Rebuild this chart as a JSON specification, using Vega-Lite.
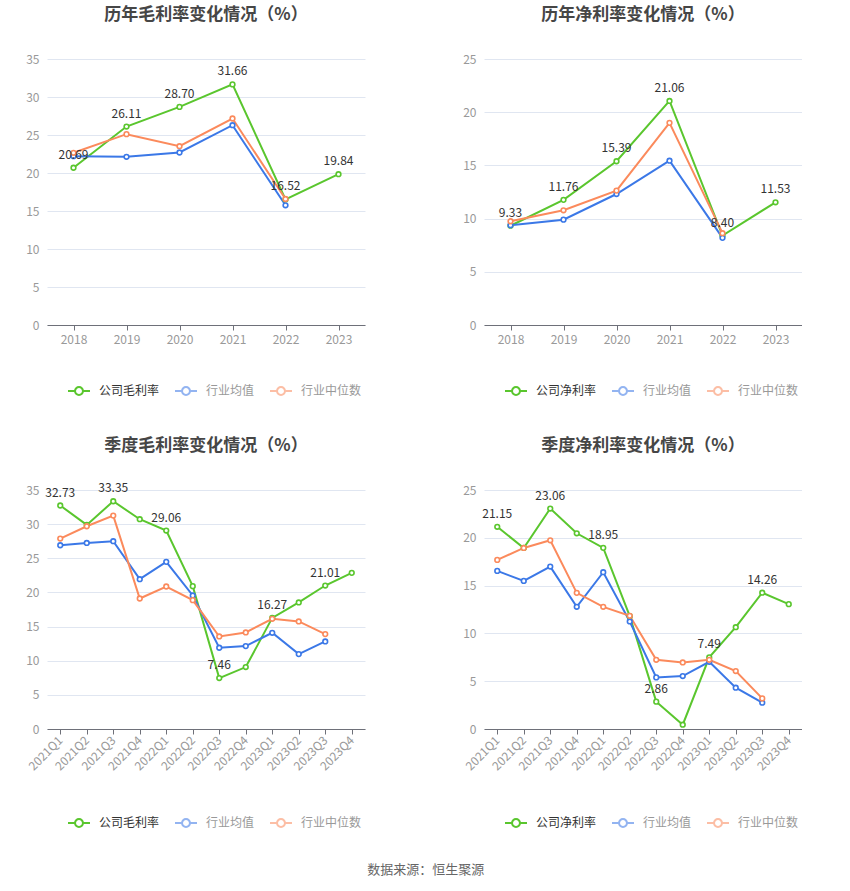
{
  "$schema": "https://vega.github.io/schema/vega-lite/v6.json",
  "background": "white",
  "padding": {"left": 25, "top": 6, "right": 0, "bottom": 5},
  "datasets": {
    "ag": [
      {"x": "2018", "s": "公司毛利率", "v": 20.69}, {"x": "2019", "s": "公司毛利率", "v": 26.11}, {"x": "2020", "s": "公司毛利率", "v": 28.70}, {"x": "2021", "s": "公司毛利率", "v": 31.66}, {"x": "2022", "s": "公司毛利率", "v": 16.52}, {"x": "2023", "s": "公司毛利率", "v": 19.84},
      {"x": "2018", "s": "行业均值", "v": 22.22}, {"x": "2019", "s": "行业均值", "v": 22.13}, {"x": "2020", "s": "行业均值", "v": 22.70}, {"x": "2021", "s": "行业均值", "v": 26.29}, {"x": "2022", "s": "行业均值", "v": 15.75},
      {"x": "2018", "s": "行业中位数", "v": 22.66}, {"x": "2019", "s": "行业中位数", "v": 25.11}, {"x": "2020", "s": "行业中位数", "v": 23.53}, {"x": "2021", "s": "行业中位数", "v": 27.17}, {"x": "2022", "s": "行业中位数", "v": 16.58}
    ],
    "an": [
      {"x": "2018", "s": "公司净利率", "v": 9.33}, {"x": "2019", "s": "公司净利率", "v": 11.76}, {"x": "2020", "s": "公司净利率", "v": 15.39}, {"x": "2021", "s": "公司净利率", "v": 21.06}, {"x": "2022", "s": "公司净利率", "v": 8.40}, {"x": "2023", "s": "公司净利率", "v": 11.53},
      {"x": "2018", "s": "行业均值", "v": 9.38}, {"x": "2019", "s": "行业均值", "v": 9.90}, {"x": "2020", "s": "行业均值", "v": 12.31}, {"x": "2021", "s": "行业均值", "v": 15.44}, {"x": "2022", "s": "行业均值", "v": 8.19},
      {"x": "2018", "s": "行业中位数", "v": 9.75}, {"x": "2019", "s": "行业中位数", "v": 10.78}, {"x": "2020", "s": "行业中位数", "v": 12.63}, {"x": "2021", "s": "行业中位数", "v": 19.00}, {"x": "2022", "s": "行业中位数", "v": 8.63}
    ],
    "qg": [
      {"x": "2021Q1", "s": "公司毛利率", "v": 32.73}, {"x": "2021Q2", "s": "公司毛利率", "v": 29.89}, {"x": "2021Q3", "s": "公司毛利率", "v": 33.35}, {"x": "2021Q4", "s": "公司毛利率", "v": 30.72}, {"x": "2022Q1", "s": "公司毛利率", "v": 29.06}, {"x": "2022Q2", "s": "公司毛利率", "v": 20.92}, {"x": "2022Q3", "s": "公司毛利率", "v": 7.46}, {"x": "2022Q4", "s": "公司毛利率", "v": 9.07}, {"x": "2023Q1", "s": "公司毛利率", "v": 16.27}, {"x": "2023Q2", "s": "公司毛利率", "v": 18.53}, {"x": "2023Q3", "s": "公司毛利率", "v": 21.01}, {"x": "2023Q4", "s": "公司毛利率", "v": 22.87},
      {"x": "2021Q1", "s": "行业均值", "v": 26.91}, {"x": "2021Q2", "s": "行业均值", "v": 27.25}, {"x": "2021Q3", "s": "行业均值", "v": 27.50}, {"x": "2021Q4", "s": "行业均值", "v": 21.94}, {"x": "2022Q1", "s": "行业均值", "v": 24.48}, {"x": "2022Q2", "s": "行业均值", "v": 19.55}, {"x": "2022Q3", "s": "行业均值", "v": 11.90}, {"x": "2022Q4", "s": "行业均值", "v": 12.14}, {"x": "2023Q1", "s": "行业均值", "v": 14.09}, {"x": "2023Q2", "s": "行业均值", "v": 10.97}, {"x": "2023Q3", "s": "行业均值", "v": 12.82},
      {"x": "2021Q1", "s": "行业中位数", "v": 27.89}, {"x": "2021Q2", "s": "行业中位数", "v": 29.69}, {"x": "2021Q3", "s": "行业中位数", "v": 31.25}, {"x": "2021Q4", "s": "行业中位数", "v": 19.11}, {"x": "2022Q1", "s": "行业中位数", "v": 20.87}, {"x": "2022Q2", "s": "行业中位数", "v": 18.87}, {"x": "2022Q3", "s": "行业中位数", "v": 13.55}, {"x": "2022Q4", "s": "行业中位数", "v": 14.14}, {"x": "2023Q1", "s": "行业中位数", "v": 16.14}, {"x": "2023Q2", "s": "行业中位数", "v": 15.75}, {"x": "2023Q3", "s": "行业中位数", "v": 13.90}
    ],
    "qn": [
      {"x": "2021Q1", "s": "公司净利率", "v": 21.15}, {"x": "2021Q2", "s": "公司净利率", "v": 18.94}, {"x": "2021Q3", "s": "公司净利率", "v": 23.06}, {"x": "2021Q4", "s": "公司净利率", "v": 20.47}, {"x": "2022Q1", "s": "公司净利率", "v": 18.95}, {"x": "2022Q2", "s": "公司净利率", "v": 11.80}, {"x": "2022Q3", "s": "公司净利率", "v": 2.86}, {"x": "2022Q4", "s": "公司净利率", "v": 0.45}, {"x": "2023Q1", "s": "公司净利率", "v": 7.49}, {"x": "2023Q2", "s": "公司净利率", "v": 10.65}, {"x": "2023Q3", "s": "公司净利率", "v": 14.26}, {"x": "2023Q4", "s": "公司净利率", "v": 13.06},
      {"x": "2021Q1", "s": "行业均值", "v": 16.54}, {"x": "2021Q2", "s": "行业均值", "v": 15.49}, {"x": "2021Q3", "s": "行业均值", "v": 16.99}, {"x": "2021Q4", "s": "行业均值", "v": 12.78}, {"x": "2022Q1", "s": "行业均值", "v": 16.40}, {"x": "2022Q2", "s": "行业均值", "v": 11.25}, {"x": "2022Q3", "s": "行业均值", "v": 5.40}, {"x": "2022Q4", "s": "行业均值", "v": 5.54}, {"x": "2023Q1", "s": "行业均值", "v": 7.03}, {"x": "2023Q2", "s": "行业均值", "v": 4.32}, {"x": "2023Q3", "s": "行业均值", "v": 2.75},
      {"x": "2021Q1", "s": "行业中位数", "v": 17.69}, {"x": "2021Q2", "s": "行业中位数", "v": 18.94}, {"x": "2021Q3", "s": "行业中位数", "v": 19.74}, {"x": "2021Q4", "s": "行业中位数", "v": 14.24}, {"x": "2022Q1", "s": "行业中位数", "v": 12.78}, {"x": "2022Q2", "s": "行业中位数", "v": 11.84}, {"x": "2022Q3", "s": "行业中位数", "v": 7.24}, {"x": "2022Q4", "s": "行业中位数", "v": 6.96}, {"x": "2023Q1", "s": "行业中位数", "v": 7.24}, {"x": "2023Q2", "s": "行业中位数", "v": 6.06}, {"x": "2023Q3", "s": "行业中位数", "v": 3.20}
    ]
  },
  "title": {"text": "数据来源：恒生聚源", "orient": "bottom", "anchor": "middle", "fontSize": 13, "fontWeight": "normal", "color": "#666666", "offset": 33, "dx": 12},
  "resolve": {"scale": {"color": "independent", "x": "independent", "y": "independent"}, "legend": {"color": "independent"}},
  "spacing": 38,
  "vconcat": [
    {
      "resolve": {"scale": {"color": "independent", "x": "independent", "y": "independent"}, "legend": {"color": "independent"}},
      "spacing": 97,
      "hconcat": [
        {
          "width": 318, "height": 266,
          "title": {"text": "历年毛利率变化情况（%）"},
          "data": {"name": "ag"},
          "layer": [
            {
              "mark": {"type": "line", "strokeWidth": 2, "point": {"filled": false, "fill": "white", "size": 22, "strokeWidth": 1.6}},
              "encoding": {
                "x": {"field": "x", "type": "ordinal", "scale": {"type": "point", "padding": 0.5}, "axis": {"labelAngle": 0}},
                "y": {"field": "v", "type": "quantitative", "scale": {"domain": [0, 35], "nice": false}, "axis": {"tickCount": 7, "labelOverlap": false}},
                "color": {"field": "s", "type": "nominal", "sort": ["公司毛利率", "行业均值", "行业中位数"], "scale": {"domain": ["公司毛利率", "行业均值", "行业中位数"], "range": ["#5ac62e", "#3b78e7", "#fb8a5c"]},
                  "legend": {"orient": "none", "legendX": 20, "legendY": 320,
                    "encode": {"labels": {"update": {"fill": {"signal": "datum.index === 0 ? '#333333' : '#999999'"}}}, "symbols": {"update": {"opacity": {"signal": "datum.index === 0 ? 1 : 0.55"}}}}}}
              }
            },
            {
              "transform": [{"filter": {"field": "s", "equal": "公司毛利率"}}],
              "mark": {"type": "text", "dy": -13, "fontSize": 12, "color": "#333333"},
              "encoding": {
                "x": {"field": "x", "type": "ordinal"},
                "y": {"field": "v", "type": "quantitative"},
                "text": {"field": "v", "type": "quantitative", "format": ".2f"}
              }
            }
          ]
        },
        {
          "width": 318, "height": 266,
          "title": {"text": "历年净利率变化情况（%）"},
          "data": {"name": "an"},
          "layer": [
            {
              "mark": {"type": "line", "strokeWidth": 2, "point": {"filled": false, "fill": "white", "size": 22, "strokeWidth": 1.6}},
              "encoding": {
                "x": {"field": "x", "type": "ordinal", "scale": {"type": "point", "padding": 0.5}, "axis": {"labelAngle": 0}},
                "y": {"field": "v", "type": "quantitative", "scale": {"domain": [0, 25], "nice": false}, "axis": {"tickCount": 6, "labelOverlap": false}},
                "color": {"field": "s", "type": "nominal", "sort": ["公司净利率", "行业均值", "行业中位数"], "scale": {"domain": ["公司净利率", "行业均值", "行业中位数"], "range": ["#5ac62e", "#3b78e7", "#fb8a5c"]},
                  "legend": {"orient": "none", "legendX": 20, "legendY": 320,
                    "encode": {"labels": {"update": {"fill": {"signal": "datum.index === 0 ? '#333333' : '#999999'"}}}, "symbols": {"update": {"opacity": {"signal": "datum.index === 0 ? 1 : 0.55"}}}}}}
              }
            },
            {
              "transform": [{"filter": {"field": "s", "equal": "公司净利率"}}],
              "mark": {"type": "text", "dy": -13, "fontSize": 12, "color": "#333333"},
              "encoding": {
                "x": {"field": "x", "type": "ordinal"},
                "y": {"field": "v", "type": "quantitative"},
                "text": {"field": "v", "type": "quantitative", "format": ".2f"}
              }
            }
          ]
        }
      ]
    },
    {
      "resolve": {"scale": {"color": "independent", "x": "independent", "y": "independent"}, "legend": {"color": "independent"}},
      "spacing": 97,
      "hconcat": [
        {
          "width": 318, "height": 239,
          "title": {"text": "季度毛利率变化情况（%）", "offset": 27},
          "data": {"name": "qg"},
          "layer": [
            {
              "mark": {"type": "line", "strokeWidth": 2, "point": {"filled": false, "fill": "white", "size": 22, "strokeWidth": 1.6}},
              "encoding": {
                "x": {"field": "x", "type": "ordinal", "scale": {"type": "point", "padding": 0.5}, "axis": {"labelAngle": -45, "labelAlign": "right", "labelBaseline": "middle"}},
                "y": {"field": "v", "type": "quantitative", "scale": {"domain": [0, 35], "nice": false}, "axis": {"tickCount": 7, "labelOverlap": false}},
                "color": {"field": "s", "type": "nominal", "sort": ["公司毛利率", "行业均值", "行业中位数"], "scale": {"domain": ["公司毛利率", "行业均值", "行业中位数"], "range": ["#5ac62e", "#3b78e7", "#fb8a5c"]},
                  "legend": {"orient": "none", "legendX": 20, "legendY": 321,
                    "encode": {"labels": {"update": {"fill": {"signal": "datum.index === 0 ? '#333333' : '#999999'"}}}, "symbols": {"update": {"opacity": {"signal": "datum.index === 0 ? 1 : 0.55"}}}}}}
              }
            },
            {
              "transform": [{"filter": {"field": "x", "oneOf": ["2021Q1", "2021Q3", "2022Q1", "2022Q3", "2023Q1", "2023Q3"]}}, {"filter": {"field": "s", "equal": "公司毛利率"}}],
              "mark": {"type": "text", "dy": -13, "fontSize": 12, "color": "#333333"},
              "encoding": {
                "x": {"field": "x", "type": "ordinal"},
                "y": {"field": "v", "type": "quantitative"},
                "text": {"field": "v", "type": "quantitative", "format": ".2f"}
              }
            }
          ]
        },
        {
          "width": 318, "height": 239,
          "title": {"text": "季度净利率变化情况（%）", "offset": 29},
          "data": {"name": "qn"},
          "layer": [
            {
              "mark": {"type": "line", "strokeWidth": 2, "point": {"filled": false, "fill": "white", "size": 22, "strokeWidth": 1.6}},
              "encoding": {
                "x": {"field": "x", "type": "ordinal", "scale": {"type": "point", "padding": 0.5}, "axis": {"labelAngle": -45, "labelAlign": "right", "labelBaseline": "middle"}},
                "y": {"field": "v", "type": "quantitative", "scale": {"domain": [0, 25], "nice": false}, "axis": {"tickCount": 6, "labelOverlap": false}},
                "color": {"field": "s", "type": "nominal", "sort": ["公司净利率", "行业均值", "行业中位数"], "scale": {"domain": ["公司净利率", "行业均值", "行业中位数"], "range": ["#5ac62e", "#3b78e7", "#fb8a5c"]},
                  "legend": {"orient": "none", "legendX": 20, "legendY": 321,
                    "encode": {"labels": {"update": {"fill": {"signal": "datum.index === 0 ? '#333333' : '#999999'"}}}, "symbols": {"update": {"opacity": {"signal": "datum.index === 0 ? 1 : 0.55"}}}}}}
              }
            },
            {
              "transform": [{"filter": {"field": "x", "oneOf": ["2021Q1", "2021Q3", "2022Q1", "2022Q3", "2023Q1", "2023Q3"]}}, {"filter": {"field": "s", "equal": "公司净利率"}}],
              "mark": {"type": "text", "dy": -13, "fontSize": 12, "color": "#333333"},
              "encoding": {
                "x": {"field": "x", "type": "ordinal"},
                "y": {"field": "v", "type": "quantitative"},
                "text": {"field": "v", "type": "quantitative", "format": ".2f"}
              }
            }
          ]
        }
      ]
    }
  ],
  "config": {
    "font": "Noto Sans CJK SC",
    "view": {"stroke": null},
    "title": {"fontSize": 17, "fontWeight": "bold", "color": "#464646", "anchor": "middle", "offset": 29, "font": "Noto Sans CJK SC"},
    "axis": {"title": null, "labelFont": "Noto Sans CJK SC", "labelFontSize": 12, "labelColor": "#999999"},
    "axisX": {"grid": false, "domainColor": "#6e7079", "tickColor": "#6e7079", "tickSize": 5, "labelPadding": 4},
    "axisY": {"domain": false, "ticks": false, "gridColor": "#e0e6f1", "labelPadding": 8},
    "legend": {
      "direction": "horizontal", "title": null, "padding": 0,
      "symbolType": "M-1,0L-0.36,0M0.36,0L1,0M-0.36,0A0.36,0.36,0,1,1,0.36,0A0.36,0.36,0,1,1,-0.36,0",
      "symbolSize": 484, "symbolStrokeWidth": 2, "symbolFillColor": "white",
      "labelFont": "Noto Sans CJK SC", "labelFontSize": 12, "labelOffset": 8, "columnPadding": 11
    }
  }
}
